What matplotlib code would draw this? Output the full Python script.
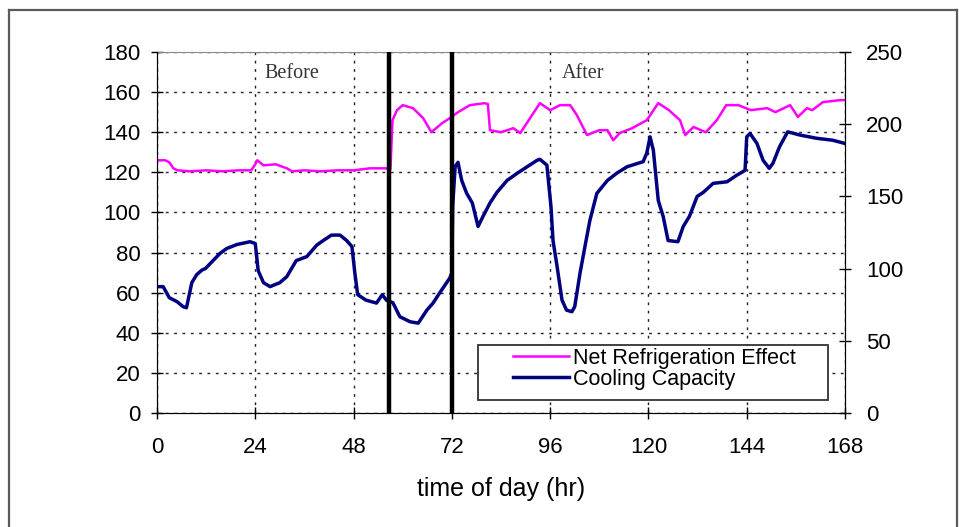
import matplotlib
matplotlib.use("Agg")
import matplotlib.pyplot as plt
from matplotlib.lines import Line2D
from matplotlib.patches import Rectangle

plt.rcParams['font.family'] = ['Liberation Sans', 'DejaVu Sans']

# ---- data ----
nre_hours = [0, 2, 3, 4, 5, 8, 12, 16, 20, 23, 24, 24.5, 26, 29, 31.7, 33, 36, 40, 44, 48,
             52, 56, 57, 57.5, 58.6, 60, 62.5, 65, 67, 69.6, 71.5, 73.5, 76.4, 80, 80.8,
             81.3, 84, 87, 88.7, 90, 93.5, 96, 98.4, 100.9, 102.5, 105, 108, 110, 111.4,
             113, 116, 119.6, 122.4, 125, 127.7, 129, 131, 134, 136.7, 139, 142, 145, 149,
             151, 154.6, 156.5, 158.7, 160, 162.6, 166.8, 168]
nre_values = [126, 126, 125, 122, 121, 120.5, 121, 120.5, 121, 121, 124, 126, 123.5, 124, 122,
              120.5, 121, 120.5, 121, 121, 122, 122, 121.5, 146, 151, 153.5, 152, 147, 140,
              144.5, 147, 150, 153.5, 154.5, 154, 141, 140, 142, 139.6, 143.6, 154.5, 151,
              153.5, 153.5, 148.6, 138.6, 141, 141, 136, 139.6, 142, 146, 154.5, 151, 146,
              138.6, 142.6, 140, 146, 153.5, 153.5, 151, 152, 150, 153.5, 147.6, 152, 151,
              155, 156, 156]

cc_hours = [0, 1.5, 3, 4.9, 6.4, 7.2, 8.5, 9.7, 11, 11.8, 13.7, 15.4, 17, 19.5, 22.7, 24,
            24.7, 26, 27.6, 30, 31.7, 34, 36.6, 39, 40.6, 42.6, 44.7, 46.3, 47.6, 48.3, 49,
            51, 53.6, 55, 56, 57.6, 59.3, 61.8, 63.8, 65.9, 67.4, 69, 71.5, 72, 72.2, 72.8,
            73.5, 74.4, 75.6, 77, 78.4, 79.6, 81.3, 83, 85.5, 88, 90.4, 92.8, 93.5, 95.2,
            96.2, 96.7, 97.7, 98.9, 100, 101.3, 102, 103.3, 104.5, 105.7, 107.4, 110, 112.3,
            114.8, 118.7, 119.6, 120.4, 121.2, 122.4, 123.6, 124.8, 127.2, 128.5, 130, 131.9,
            133.4, 135.8, 139.2, 141.6, 143.6, 144, 144.8, 146.5, 148, 149.5, 150.4, 152,
            154, 157, 161, 165, 168]
cc_values = [63, 63, 57.5, 55.5, 53, 52.5, 65, 69, 71.3, 72, 76, 79.6, 82, 84, 85.4, 84.5,
             71, 65, 63, 65, 68, 76, 78, 83.7, 86, 88.7, 88.7, 86, 83, 70, 59,
             56.3, 54.8, 59, 56.3, 55, 48, 45.5, 44.8, 51.3, 54.8, 59.8, 67.3, 70, 103, 122.8,
             125, 116, 109.6, 104.7, 93, 98, 104.7, 110, 116, 119.6, 122.8, 126, 126.5, 123.6,
             103, 86, 73, 56.3, 51.3, 50.5, 53, 69.8, 83, 96, 109.5, 116, 119.6,
             122.8, 125.3, 129.6, 137.7, 131, 106, 98, 86, 85.4, 93, 98, 108,
             110, 114.5, 115.3, 118.6, 121, 137.7, 139.4, 134.4, 126, 122, 124.5, 132.7,
             140.2, 138.6, 137, 136, 134.4]

event_lines = [56.6, 72]
x_ticks = [0, 24, 48, 72, 96, 120, 144, 168]
left_ticks = [0, 20, 40, 60, 80, 100, 120, 140, 160, 180]
right_ticks = [0, 50, 100, 150, 200, 250]
series_labels = ["Net Refrigeration Effect", "Cooling Capacity"]
x_label = "time of day (hr)"

# ---- figure ----
fig = plt.figure(figsize=(9.59, 5.27), dpi=100)
W, H = 959, 527
ax = fig.add_axes([157 / W, 1 - 413 / H, (845 - 157) / W, (413 - 52) / H])

# outer frame
for xs, ys in [([9 / W, 9 / W], [0, 1 - 10 / H]),
               ([9 / W, 957 / W], [1 - 10 / H, 1 - 10 / H]),
               ([957 / W, 957 / W], [1 - 10 / H, 0])]:
    fig.add_artist(Line2D(xs, ys, transform=fig.transFigure, color='#5a5a5a', lw=1.6))

l1, = ax.plot(nre_hours, nre_values, color='#ff00ff', lw=1.8, zorder=3)
l2, = ax.plot(cc_hours, cc_values, color='#000080', lw=2.5, zorder=4)
for xv in event_lines:
    ax.axvline(xv, color='black', lw=3.2, zorder=5)

ax.set_xlim(0, 168)
ax.set_ylim(0, 180)
ax.set_xticks(x_ticks)
ax.set_yticks(left_ticks)
ax.grid(True, color='#222222', lw=1.0, linestyle=(0, (2, 4)))
ax.tick_params(direction='inout', length=8, width=1, labelsize=16)
ax.tick_params(axis='x', pad=13)
ax.tick_params(axis='y', pad=8)
ax.spines['top'].set_color('#888888')
ax.set_xlabel(x_label, fontsize=18, labelpad=14)

ax2 = ax.twinx()
ax2.set_ylim(0, 250)
ax2.set_yticks(right_ticks)
ax2.tick_params(direction='inout', length=8, width=1, labelsize=16, pad=11)
ax2.spines['top'].set_visible(False)

ax.text(33, 169.5, "Before", ha='center', va='center', fontsize=14.5,
        family=['Liberation Serif', 'DejaVu Serif'], color='#333333')
ax.text(104, 169.5, "After", ha='center', va='center', fontsize=14.5,
        family=['Liberation Serif', 'DejaVu Serif'], color='#333333')

# legend frame + legend
ax.add_patch(Rectangle(((478 - 157) / 688, (413 - 400) / 361), (828 - 478) / 688,
                       (400 - 345) / 361, transform=ax.transAxes, fill=True,
                       facecolor='white', edgecolor='#333333', lw=1.3, zorder=6))
leg = ax.legend([l1, l2], series_labels, loc='upper left',
                bbox_to_anchor=((513 - 157) / 688, (413 - 348) / 361),
                frameon=False, fontsize=15.5, borderpad=0, borderaxespad=0,
                handlelength=2.6, handletextpad=0.2, labelspacing=0.0)
leg.set_zorder(7)

fig.savefig("out.png", dpi=100)
